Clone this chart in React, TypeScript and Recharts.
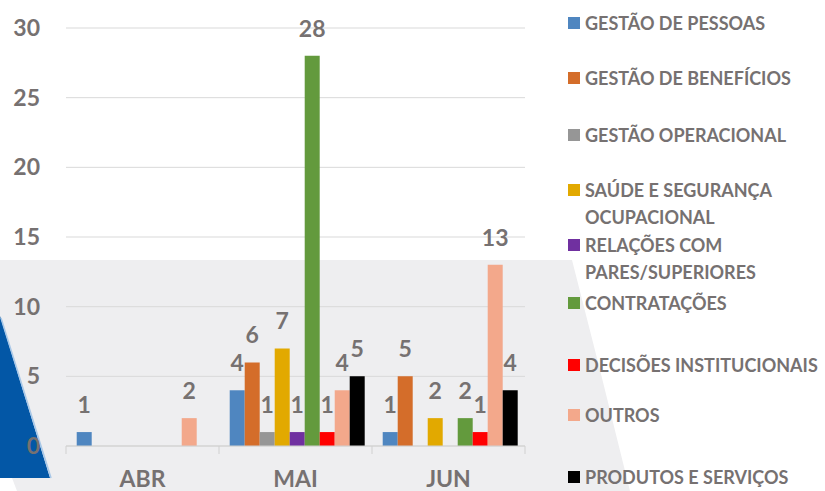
import React from 'react';
import { BarChart, Bar, XAxis, YAxis, CartesianGrid, Legend, LabelList } from 'recharts';

const categories = ['ABR', 'MAI', 'JUN'];
const seriesNames = [
  'GESTÃO DE PESSOAS',
  'GESTÃO DE BENEFÍCIOS',
  'GESTÃO OPERACIONAL',
  'SAÚDE E SEGURANÇA\nOCUPACIONAL',
  'RELAÇÕES COM\nPARES/SUPERIORES',
  'CONTRATAÇÕES',
  'DECISÕES INSTITUCIONAIS',
  'OUTROS',
  'PRODUTOS E SERVIÇOS',
];
const gestaoPessoas = [1, 4, 1];
const gestaoBeneficios = [0, 6, 5];
const gestaoOperacional = [0, 1, 0];
const saudeSeguranca = [0, 7, 2];
const relacoes = [0, 1, 0];
const contratacoes = [0, 28, 2];
const decisoes = [0, 1, 1];
const outros = [2, 4, 13];
const produtos = [0, 5, 4];
const yTicks = [0, 5, 10, 15, 20, 25, 30];

const seriesValues = [
  gestaoPessoas, gestaoBeneficios, gestaoOperacional, saudeSeguranca, relacoes,
  contratacoes, decisoes, outros, produtos,
];
const colors = ['#4f86c0', '#d46d2a', '#969696', '#e2a900', '#7030a0', '#639a3d', '#ff0000', '#f3a88b', '#000000'];
const keys = seriesNames.map((_, i) => `s${i}`);

const data = categories.map((c, ci) => {
  const row: Record<string, any> = { cat: c };
  keys.forEach((k, si) => { row[k] = seriesValues[si][ci]; });
  return row;
});

const W = 825;
const H = 491;
const M = { top: 28, right: 300, bottom: 0, left: 0 };
const Y_W = 66;
const X_H = 45;
const plotW = W - M.left - M.right - Y_W;
const band = plotW / categories.length;
const TXT = '#767171';
const FONT = 'Lato, "Open Sans", sans-serif';

const XTick = (props: any) => {
  const { x, y, payload, index } = props;
  const left = x - band / 2;
  const right = x + band / 2;
  return (
    <g>
      <line x1={left} y1={y} x2={left} y2={y + 8} stroke="#d0d0d0" />
      {index === categories.length - 1 && (
        <line x1={right} y1={y} x2={right} y2={y + 8} stroke="#d0d0d0" />
      )}
      <text x={x} y={y + 41} textAnchor="middle" fill={TXT} fontSize={23} fontWeight="bold" fontFamily={FONT}>
        {payload.value}
      </text>
    </g>
  );
};

const legendTops = [23, 78, 135, 190, 245, 303, 365, 415, 477];

const LegendContent = () => (
  <div style={{ position: 'relative', width: W, height: H, pointerEvents: 'none' }}>
    {seriesNames.map((n, i) => (
      <div key={n} style={{ position: 'absolute', left: 568, top: legendTops[i] - 13.5 }}>
        <div style={{ position: 'absolute', left: 0, top: 7.5, width: 12, height: 12, background: colors[i] }} />
        <div style={{
          position: 'absolute', left: 17, top: 0, whiteSpace: 'pre', lineHeight: '27px',
          fontFamily: FONT, fontWeight: 'bold', fontSize: 18, color: TXT,
        }}>{n}</div>
      </div>
    ))}
  </div>
);

export default function App() {
  return (
    <div style={{ position: 'absolute', left: 0, top: 0, width: W, height: H, background: '#fff', overflow: 'hidden' }}>
      <svg width={W} height={H} style={{ position: 'absolute', left: 0, top: 0 }}>
        <polygon points="0,260 572,260 600,370 630,491 17,491 12,478 0,478" fill="#eeeef0" />
        <polygon points="0,316 50,478 0,478" fill="#0357a6" />
        <line x1={1} y1={318} x2={51} y2={478} stroke="#a9c8e8" strokeWidth={1.5} />
      </svg>
      <div style={{ position: 'absolute', left: 0, top: 0 }}>
        <BarChart width={W} height={H} data={data} margin={M} barCategoryGap="7%" barGap={0}>
          <CartesianGrid vertical={false} stroke="#d9d9d9" />
          <XAxis dataKey="cat" height={X_H} axisLine={{ stroke: '#d0d0d0' }} tickLine={false} tickSize={0} tickMargin={0} tick={<XTick />} interval={0} />
          <YAxis width={Y_W} domain={[0, 30]} ticks={yTicks} axisLine={false} tickLine={false} tickSize={0} tickMargin={26}
            tick={{ fill: TXT, fontSize: 23, fontWeight: 'bold', fontFamily: FONT }} />
          <Legend layout="vertical" align="center" verticalAlign="middle" content={<LegendContent />}
            wrapperStyle={{ left: 0, top: 0, width: W, height: H, pointerEvents: 'none' }} />
          {keys.map((k, i) => (
            <Bar key={k} dataKey={k} name={seriesNames[i]} fill={colors[i]} isAnimationActive={false}>
              <LabelList dataKey={k} position="top" offset={19}
                formatter={(v: any) => (v ? v : '')}
                fill={TXT} fontSize={23} fontWeight="bold" fontFamily={FONT} />
            </Bar>
          ))}
        </BarChart>
      </div>
    </div>
  );
}
